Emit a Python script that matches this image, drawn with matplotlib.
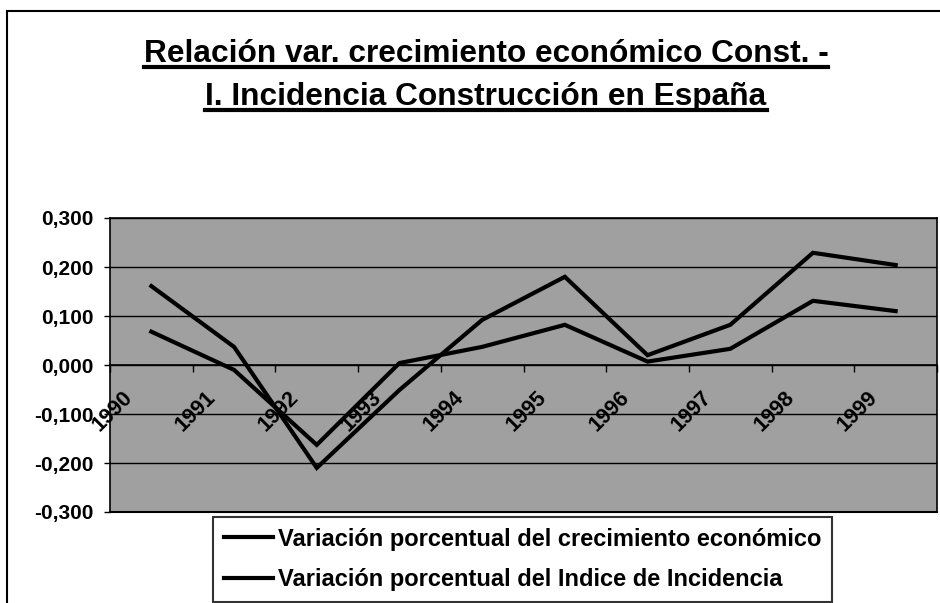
import numpy as np
import matplotlib
matplotlib.use("Agg")
import matplotlib.pyplot as plt
from matplotlib.ticker import FuncFormatter
from matplotlib.transforms import ScaledTranslation
from matplotlib.lines import Line2D
from matplotlib.patches import Rectangle

# ---------------------------------------------------------
# DATA
# ---------------------------------------------------------
years = ["1990", "1991", "1992", "1993", "1994", "1995", "1996", "1997", "1998", "1999"]
var_crecimiento = [0.068, -0.010, -0.163, 0.004, 0.037, 0.082, 0.007, 0.033, 0.131, 0.110]
var_incidencia = [0.161, 0.037, -0.210, -0.051, 0.092, 0.180, 0.020, 0.082, 0.229, 0.204]

title_lines = ["Relación var. crecimiento económico Const. -",
               "I. Incidencia Construcción en España"]
legend_labels = ["Variación porcentual del crecimiento económico",
                 "Variación porcentual del Indice de Incidencia"]

plt.rcParams["font.family"] = ["Liberation Sans", "DejaVu Sans"]
plt.rcParams["font.weight"] = "bold"

W, H = 940, 603
fig = plt.figure(figsize=(W / 100, H / 100), dpi=100)
fig.patch.set_facecolor("white")

# marco exterior
fig.patches.append(Rectangle((7 / W, -0.05), 1.1, 1 - 11 / H + 0.05,
                             transform=fig.transFigure, fill=False,
                             edgecolor="black", linewidth=1.5))

ax = fig.add_axes([110 / W, 1 - 512 / H, (937 - 110) / W, (512 - 218) / H])
ax.set_facecolor("#a0a0a0")

x = np.arange(len(years))
l1, = ax.plot(x, var_crecimiento, color="black", linewidth=3, solid_joinstyle="miter")
l2, = ax.plot(x, var_incidencia, color="black", linewidth=3, solid_joinstyle="miter")

ax.set_xlim(-0.5, len(years) - 0.5)
ax.set_ylim(-0.3, 0.3)
ax.set_yticks(np.arange(-0.3, 0.31, 0.1))
ax.yaxis.set_major_formatter(FuncFormatter(lambda v, p: f"{v:.3f}".replace(".", ",").replace("-0,000", "0,000")))
ax.yaxis.grid(True, color="black", linewidth=1)
ax.set_axisbelow(False)
ax.tick_params(axis="y", direction="out", length=4, width=1, labelsize=15, pad=8)

# eje X cruzando en 0
ax.spines["bottom"].set_position(("data", 0))
ax.axhline(-0.3, color="black", linewidth=1.5, clip_on=False)
ax.set_xticks(np.arange(-0.5, len(years), 1))
ax.set_xticklabels([])
ax.set_xticks(x, minor=True)
ax.set_xticklabels(years, minor=True, rotation=45, ha="right", va="top")
ax.tick_params(axis="x", which="major", direction="out", length=5, width=1)
ax.tick_params(axis="x", which="minor", length=0, labelsize=15.5, pad=16)
for lab in ax.get_xticklabels(minor=True):
    lab.set_transform(lab.get_transform() + ScaledTranslation(-0.14, 0, fig.dpi_scale_trans))
for s in ax.spines.values():
    s.set_linewidth(1.2)

# título subrayado
title_y = [62, 105]
texts = []
for t, yy in zip(title_lines, title_y):
    texts.append(fig.text(486 / W, 1 - yy / H, t, ha="center", va="baseline",
                          fontsize=22.8, fontweight="bold"))
fig.canvas.draw()
r = fig.canvas.get_renderer()
for t, yy in zip(texts, title_y):
    bb = t.get_window_extent(r)
    uy = 1 - (yy + 5) / H
    fig.add_artist(Line2D([bb.x0 / W, bb.x1 / W], [uy, uy], transform=fig.transFigure,
                          color="black", linewidth=3))

# leyenda
leg = fig.legend([l1, l2], legend_labels, loc="upper left",
                 bbox_to_anchor=(213 / W, 1 - 517 / H), frameon=True,
                 fontsize=17, handlelength=2.1, handletextpad=0.2,
                 labelspacing=0.75, borderpad=0.45, borderaxespad=0)
leg.get_frame().set_edgecolor("black")
leg.get_frame().set_linewidth(1.5)
leg.get_frame().set_boxstyle("square", pad=0)
for t in leg.get_texts():
    t.set_fontweight("bold")

fig.savefig("out.png", dpi=100)
